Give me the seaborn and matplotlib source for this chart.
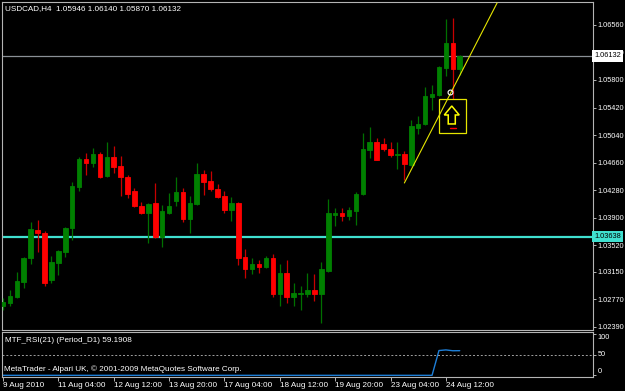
import numpy as np
import pandas as pd
import matplotlib
matplotlib.use("Agg")
import matplotlib.pyplot as plt
from matplotlib.patches import Polygon, Rectangle
import seaborn as sns

# ---------------- data ----------------
opens = [1.02680, 1.02721, 1.02804, 1.03011, 1.03342, 1.03729, 1.03688, 1.03039, 1.03273, 1.03425,
         1.03757, 1.04323, 1.04710, 1.04654, 1.04779, 1.04475, 1.04737, 1.04613, 1.04461, 1.04268,
         1.04061, 1.03964, 1.04102, 1.03633, 1.03964, 1.04130, 1.04254, 1.03881, 1.04088, 1.04502,
         1.04406, 1.04295, 1.04199, 1.04005, 1.04102, 1.03356, 1.03191, 1.03260, 1.03218, 1.03342,
         1.02845, 1.03135, 1.02804, 1.02845, 1.02845, 1.02901, 1.02845, 1.03163, 1.03936, 1.03964,
         1.03923, 1.03992, 1.04226, 1.04834, 1.04944, 1.04917, 1.04848, 1.04765, 1.04779, 1.04627,
         1.05138, 1.05193, 1.05566, 1.05593, 1.05966, 1.06311, 1.05946]
highs = [1.02790, 1.02901, 1.03149, 1.03356, 1.03840, 1.03867, 1.03715, 1.03370, 1.03453, 1.03771,
         1.04392, 1.04737, 1.04792, 1.04861, 1.04806, 1.04944, 1.04889, 1.04751, 1.04489, 1.04309,
         1.04116, 1.04095, 1.04378, 1.04074, 1.04240, 1.04461, 1.04309, 1.04199, 1.04654, 1.04558,
         1.04544, 1.04364, 1.04268, 1.04185, 1.04110, 1.03467, 1.03342, 1.03315, 1.03370, 1.03398,
         1.03260, 1.03315, 1.02997, 1.02956, 1.03135, 1.03122, 1.03287, 1.04157, 1.04033, 1.04033,
         1.04047, 1.04254, 1.05069, 1.05151, 1.04999, 1.04999, 1.04944, 1.04944, 1.04820, 1.05248,
         1.05303, 1.05704, 1.05731, 1.05990, 1.06643, 1.06657, 1.06140]
lows = [1.02625, 1.02680, 1.02790, 1.02928, 1.03260, 1.03425, 1.02956, 1.02997, 1.03108, 1.03356,
        1.03591, 1.04268, 1.04489, 1.04599, 1.04450, 1.04461, 1.04516, 1.04199, 1.04171, 1.04047,
        1.03950, 1.03550, 1.03620, 1.03494, 1.03950, 1.04061, 1.03840, 1.03688, 1.04074, 1.04212,
        1.04268, 1.04171, 1.03964, 1.03853, 1.03246, 1.03066, 1.03122, 1.03135, 1.03204, 1.02804,
        1.02680, 1.02721, 1.02680, 1.02625, 1.02804, 1.02749, 1.02445, 1.03150, 1.03784, 1.03853,
        1.03867, 1.03798, 1.04215, 1.04723, 1.04690, 1.04820, 1.04737, 1.04571, 1.04420, 1.04613,
        1.05055, 1.05179, 1.05386, 1.05580, 1.05856, 1.05538, 1.05870]
closes = [1.02735, 1.02818, 1.03025, 1.03342, 1.03743, 1.03688, 1.02997, 1.03287, 1.03439, 1.03757,
          1.04337, 1.04710, 1.04654, 1.04779, 1.04461, 1.04737, 1.04599, 1.04461, 1.04226, 1.04061,
          1.03964, 1.04088, 1.03633, 1.03992, 1.04061, 1.04254, 1.03881, 1.04102, 1.04502, 1.04392,
          1.04295, 1.04185, 1.04005, 1.04102, 1.03342, 1.03191, 1.03260, 1.03218, 1.03342, 1.02845,
          1.03135, 1.02804, 1.02859, 1.02859, 1.02901, 1.02845, 1.03191, 1.03964, 1.03964, 1.03923,
          1.04005, 1.04226, 1.04848, 1.04944, 1.04696, 1.04848, 1.04765, 1.04779, 1.04641, 1.05165,
          1.05193, 1.05579, 1.05607, 1.05980, 1.06311, 1.05952, 1.06132]

rsi_values = [0.0] * 63 + [59.5, 61.0, 59.0, 59.19]

price_ticks = [1.06560, 1.06180, 1.05800, 1.05420, 1.05040, 1.04660, 1.04280,
               1.03900, 1.03520, 1.03150, 1.02770, 1.02390]
time_tick_pos = [0, 8, 16, 24, 32, 40, 48, 56, 64]
time_tick_labels = ["9 Aug 2010", "11 Aug 04:00", "12 Aug 12:00", "13 Aug 20:00",
                    "17 Aug 04:00", "18 Aug 12:00", "19 Aug 20:00", "23 Aug 04:00",
                    "24 Aug 12:00"]
bid_price = 1.06132
hline_price = 1.03638
title_text = "USDCAD,H4  1.05946 1.06140 1.05870 1.06132"
rsi_title = "MTF_RSI(21) (Period_D1) 59.1908"
copyright_text = "MetaTrader - Alpari UK, \u00a9 2001-2009 MetaQuotes Software Corp."

# trend line anchors (bar index, price)
trend_x = [58.0, 71.4]
trend_y = [1.04378, 1.06864]

# ---------------- style ----------------
sns.set_style("dark")
plt.rcParams["font.family"] = ["Liberation Sans", "DejaVu Sans"]
BG = "#000000"
FG = "#ffffff"
AXC = "#b4b4b4"
FS = 5.3

W, H = 625, 391
fig = plt.figure(figsize=(W / 100, H / 100), dpi=100, facecolor=BG)


def rect(x0, y0, x1, y1):
    return [x0 / W, 1 - y1 / H, (x1 - x0) / W, (y1 - y0) / H]


ax = fig.add_axes(rect(2, 2, 593, 330), facecolor=BG)
axr = fig.add_axes(rect(2, 332, 593, 377), facecolor=BG, sharex=ax)

df = pd.DataFrame({"open": opens, "high": highs, "low": lows, "close": closes})
df["idx"] = np.arange(len(df))
up = df["close"] >= df["open"]
body_col = np.where(up, "#008000", "#ff0000")
wick_col = np.where(up, "#007000", "#c80000")

ax.vlines(df["idx"], df["low"], df["high"], colors=wick_col, linewidth=0.9, zorder=3)
ax.bar(df["idx"], (df["close"] - df["open"]).abs(),
       bottom=np.minimum(df["open"], df["close"]), width=0.66,
       color=body_col, edgecolor=body_col, linewidth=0.6, zorder=4)

ax.set_xlim(-0.145, 85.26)
ax.set_ylim(1.02348, 1.06877)

# horizontal lines
ax.axhline(bid_price, color="#8a9096", linewidth=0.9, zorder=2)
ax.axhline(hline_price, color="#40e0d0", linewidth=1.6, zorder=2)

# trend line
ax.plot(trend_x, trend_y, color="#e6e600", linewidth=0.8, zorder=5)

# signal box with arrow
ax.add_patch(Rectangle((63.0, 1.05069), 3.9, 1.05538 - 1.05069, fill=False,
                       edgecolor="#e6e600", linewidth=0.9, zorder=6))
arrow_pts = [(64.85, 1.05441), (63.77, 1.05317), (64.34, 1.05317), (64.34, 1.05193),
             (65.36, 1.05193), (65.36, 1.05317), (65.93, 1.05317)]
ax.add_patch(Polygon(arrow_pts, closed=True, facecolor=BG, edgecolor="#ffff00",
                     linewidth=1.1, zorder=6))
ax.plot([64.6, 65.46], [1.05138, 1.05138], color="#ff0000", linewidth=1.0, zorder=6)
ax.plot([64.6], [1.05635], marker="o", markersize=3.5, markerfacecolor="none",
        markeredgecolor="#ffffff", markeredgewidth=0.8, zorder=7)

# axes styling
for a in (ax, axr):
    a.grid(False)
    for s in ("left", "top", "right", "bottom"):
        a.spines[s].set_visible(True)
        a.spines[s].set_color(AXC)
        a.spines[s].set_linewidth(0.8)
    a.yaxis.tick_right()
    a.tick_params(axis="y", which="both", direction="out", length=2.5, width=0.7,
                  color=AXC, labelcolor=FG, labelsize=FS, pad=0.8, left=False, right=True)

ax.set_yticks(price_ticks, [f"{v:.5f}" for v in price_ticks])
ax.tick_params(axis="x", bottom=False, labelbottom=False)
ax.set_xlabel("")
ax.set_ylabel("")

# price label boxes
ax.text(1.0025, bid_price, f"{bid_price:.5f}", transform=ax.get_yaxis_transform(),
        ha="left", va="center", fontsize=FS, color="#000000", clip_on=False, zorder=10,
        bbox=dict(boxstyle="square,pad=0.3", facecolor="#ffffff", edgecolor="none"))
ax.text(1.0025, hline_price, f"{hline_price:.5f}", transform=ax.get_yaxis_transform(),
        ha="left", va="center", fontsize=FS, color="#000000", clip_on=False, zorder=10,
        bbox=dict(boxstyle="square,pad=0.3", facecolor="#40e0d0", edgecolor="none"))

# RSI panel
rsi_df = pd.DataFrame({"idx": np.arange(len(rsi_values)), "rsi": rsi_values})
sns.lineplot(data=rsi_df, x="idx", y="rsi", ax=axr, color="#1e7fd8", linewidth=1.0)
axr.axhline(50, color="#a0a0a0", linewidth=0.7, linestyle=(0, (2, 2)))
axr.set_ylim(-4, 104)
axr.set_yticks([0, 50, 100], ["0", "50", "100"])
for lbl, va in zip(axr.get_yticklabels(), ["bottom", "center", "top"]):
    lbl.set_verticalalignment(va)
axr.set_xlabel("")
axr.set_ylabel("")
axr.set_xticks(time_tick_pos, time_tick_labels)
axr.tick_params(axis="x", direction="out", length=3, width=0.7, color=AXC,
                labelcolor=FG, labelsize=5.9, pad=0.5, bottom=True)
for lbl in axr.get_xticklabels():
    lbl.set_horizontalalignment("left")
axr.set_xlim(-0.145, 85.26)

# texts
fig.text(5 / W, 1 - 9 / H, title_text, color=FG, fontsize=5.9, ha="left", va="center")
fig.text(5 / W, 1 - 341 / H, rsi_title, color=FG, fontsize=5.9, ha="left", va="center")
fig.text(4 / W, 1 - 369 / H, copyright_text, color=FG, fontsize=5.9, ha="left", va="center")

fig.savefig("out.png", dpi=100, facecolor=BG)
